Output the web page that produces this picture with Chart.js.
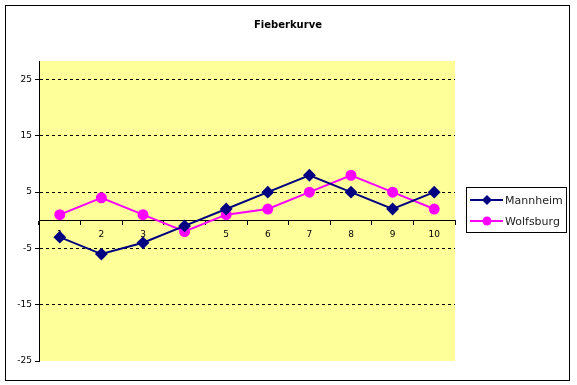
<!DOCTYPE html>
<html>
<head>
<meta charset="utf-8">
<script src="https://cdn.jsdelivr.net/npm/chart.js@4/dist/chart.umd.min.js"></script>
<style>
    html, body { margin: 0; padding: 0; background: #fff; }
    #wrap { width: 577px; height: 385px; position: relative; }
</style>
</head>
<body>
<div id="wrap"><canvas id="fieber_chart" width="577" height="385"></canvas></div>
<script>
const labels = ['1', '2', '3', '4', '5', '6', '7', '8', '9', '10'];
const mannheim = [-3, -6, -4, -1, 2, 5, 8, 5, 2, 5];
const wolfsburg = [1, 4, 1, -2, 1, 2, 5, 8, 5, 2];
const yTicks = [-25, -15, -5, 5, 15, 25];
const chartTitle = 'Fieberkurve';

////////////////////// frame, title, plot bg, legend ///////////////////
const excelLook = {
    id: 'excelLook',
    beforeDraw: function (chart) {
        const ctx = chart.ctx;
        const a = chart.chartArea;
        ctx.save();
        ctx.fillStyle = '#ffffff';
        ctx.fillRect(0, 0, chart.width, chart.height);
        ctx.strokeStyle = '#000';
        ctx.lineWidth = 1;
        ctx.strokeRect(5.5, 5.5, 564, 375);
        ctx.fillStyle = '#FFFF99';
        ctx.fillRect(a.left, a.top, a.right - a.left, a.bottom - a.top);
        ctx.fillStyle = '#000';
        ctx.font = 'bold 10px "DejaVu Sans"';
        ctx.textAlign = 'center';
        ctx.textBaseline = 'middle';
        ctx.fillText(chartTitle, 288, 25);
        ctx.restore();
    },
    afterDraw: function (chart) {
        const ctx = chart.ctx;
        ctx.save();
        ctx.strokeStyle = '#000';
        ctx.lineWidth = 1;
        ctx.strokeRect(466.5, 187.5, 100, 45);
        ctx.font = '11px "DejaVu Sans"';
        ctx.textBaseline = 'middle';
        ctx.textAlign = 'left';
        chart.data.datasets.forEach(function (ds, i) {
            const y = 200 + i * 21;
            ctx.strokeStyle = ds.borderColor;
            ctx.lineWidth = 2;
            ctx.beginPath();
            ctx.moveTo(470, y);
            ctx.lineTo(503, y);
            ctx.stroke();
            ctx.fillStyle = ds.backgroundColor;
            ctx.beginPath();
            if (ds.pointStyle === 'rectRot') {
                ctx.moveTo(487, y - 5);
                ctx.lineTo(492, y);
                ctx.lineTo(487, y + 5);
                ctx.lineTo(482, y);
            } else {
                ctx.arc(487, y, 4.5, 0, Math.PI * 2);
            }
            ctx.closePath();
            ctx.fill();
            ctx.fillStyle = '#222';
            ctx.fillText(ds.label, 505, y + 1);
        });
        ctx.restore();
    }
};

const fieberChart = new Chart(document.getElementById('fieber_chart'), {
    type: 'line',
    data: {
        labels: labels,
        datasets: [
            {
                label: 'Mannheim',
                data: mannheim,
                borderColor: '#000080',
                backgroundColor: '#000080',
                borderWidth: 2,
                pointStyle: 'rectRot',
                pointRadius: 5,
                pointHoverRadius: 5,
                tension: 0
            },
            {
                label: 'Wolfsburg',
                data: wolfsburg,
                borderColor: '#FF00FF',
                backgroundColor: '#FF00FF',
                borderWidth: 2,
                pointStyle: 'circle',
                pointRadius: 4.5,
                pointHoverRadius: 4.5,
                tension: 0
            }
        ]
    },
    options: {
        responsive: false,
        animation: false,
        layout: { padding: { left: 0, top: 61, right: 122, bottom: 24 } },
        plugins: {
            legend: { display: false },
            title: { display: false },
            tooltip: { enabled: false }
        },
        scales: {
            x: {
                position: { y: 0 },
                offset: true,
                grid: {
                    offset: true,
                    drawOnChartArea: false,
                    drawTicks: true,
                    tickLength: 4,
                    tickColor: '#000'
                },
                border: { display: true, color: '#000', width: 1 },
                ticks: {
                    color: '#000',
                    font: { family: 'DejaVu Sans', size: 9 },
                    padding: 5,
                    maxRotation: 0,
                    autoSkip: false
                }
            },
            y: {
                min: -25,
                max: 28.3,
                afterBuildTicks: function (axis) {
                    axis.ticks = yTicks.map(function (v) { return { value: v }; });
                },
                afterFit: function (axis) {
                    axis.width = 39;
                },
                grid: {
                    // no dashed line on the bottom edge
                    color: function (c) {
                        return c.tick && c.tick.value === -25 ? 'rgba(0,0,0,0)' : '#000';
                    },
                    lineWidth: 1,
                    drawTicks: true,
                    tickLength: 4,
                    tickColor: '#000',
                    tickBorderDash: [],
                    tickWidth: 1
                },
                border: { display: true, color: '#000', width: 1, dash: [3, 3] },
                ticks: {
                    color: '#000',
                    font: { family: 'DejaVu Sans', size: 9 },
                    padding: 3
                }
            }
        }
    },
    plugins: [excelLook]
});
</script>
</body>
</html>
